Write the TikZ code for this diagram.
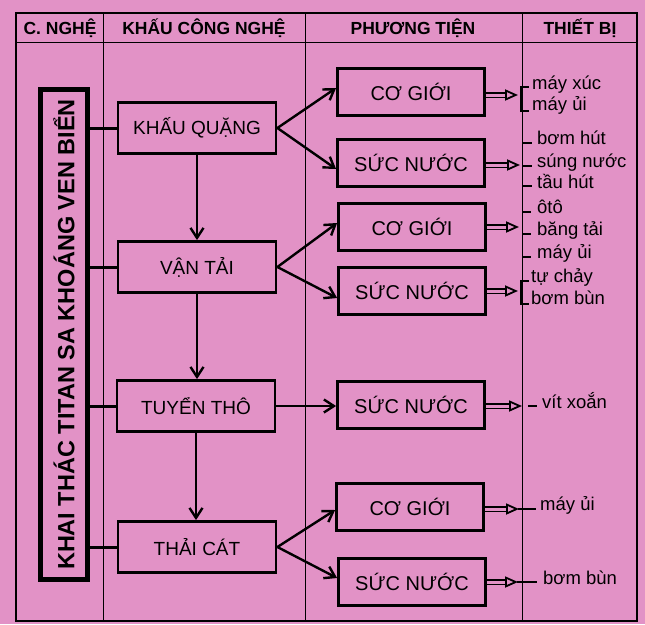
\documentclass[tikz,border=0pt]{standalone}
\usepackage{fontspec}
\setmainfont{Liberation Sans}
\usetikzlibrary{arrows.meta}
\definecolor{bgpink}{RGB}{226,146,198}
\begin{document}
\begin{tikzpicture}[x=1pt,y=-1pt,
  stage/.style={draw, line width=2.8pt, minimum width=158pt, minimum height=51pt, inner sep=0pt, font=\fontsize{19}{22}\selectfont},
  means/.style={draw, line width=2.8pt, minimum width=147pt, minimum height=47pt, inner sep=0pt, font=\fontsize{20}{23}\selectfont},
  hdr/.style={inner sep=0pt, font=\fontsize{17.5}{20}\selectfont\bfseries},
  item/.style={inner sep=0pt, anchor=mid west, font=\fontsize{18.5}{20}\selectfont},
  tline/.style={line width=1pt},
  conn/.style={line width=3pt},
  fan/.style={line width=2.4pt, -{Straight Barb[length=10pt,width=13pt,line width=2.4pt]}},
  dbl/.style={line width=1.8pt, double=bgpink, double distance=3pt, -{Triangle[open,length=13pt,width=11pt,line width=1.8pt]}},
  tick/.style={line width=2.4pt},
  brk/.style={line width=2.8pt, line cap=rect}]
\useasboundingbox (0,0) rectangle (645,624);
\fill[bgpink] (0,0) rectangle (645,624);

% table frame
\draw[line width=1.3pt] (16,13) rectangle (637,621);
\draw[tline] (16,42) -- (637,42);
\draw[tline] (103,13) -- (103,621);
\draw[tline] (305,13) -- (305,621);
\draw[tline] (522,13) -- (522,621);

% header
\node[hdr] (h1) at (60,28) {C. NGHỆ};
\node[hdr] (h2) at (204,28) {KHẤU CÔNG NGHỆ};
\node[hdr] (h3) at (413,28) {PHƯƠNG TIỆN};
\node[hdr] (h4) at (580,28) {THIẾT BỊ};

% main vertical box
\node[draw, line width=4.5pt, minimum width=47pt, minimum height=490pt, inner sep=0pt,
      font=\fontsize{23.5}{26}\selectfont\bfseries] (vbox) at (64,334.5)
      {\rotatebox{90}{KHAI THÁC TITAN SA KHOÁNG VEN BIỂN}};

% stages
\node[stage] (kq) at (197,128) {KHẤU QUẶNG};
\node[stage] (vt) at (197,267) {VẬN TẢI};
\node[stage] (tt) at (196,406) {TUYỂN THÔ};
\node[stage] (tc) at (197,547) {THẢI CÁT};

\foreach \s in {kq,vt,tt,tc} \draw[conn] (\s.west) -- (\s.west -| vbox.east);

\draw[fan] (kq.south) -- (vt.north);
\draw[fan] (vt.south) -- (vt.south |- tt.north);
\draw[fan] (tt.south) -- (tt.south |- tc.north);

% means
\node[means] (cg1) at (411,92) {CƠ GIỚI};
\node[means] (sn1) at (411,163) {SỨC NƯỚC};
\node[means] (cg2) at (412,227) {CƠ GIỚI};
\node[means] (sn2) at (412,291) {SỨC NƯỚC};
\node[means] (sn3) at (411,405) {SỨC NƯỚC};
\node[means] (cg3) at (410,507) {CƠ GIỚI};
\node[means] (sn4) at (412,582) {SỨC NƯỚC};

\draw[fan] (kq.east) -- ([yshift=4pt]cg1.west);
\draw[fan] (kq.east) -- ([yshift=-6pt]sn1.west);
\draw[fan] (vt.east) -- ([yshift=4pt]cg2.west);
\draw[fan] (vt.east) -- ([yshift=-7pt]sn2.west);
\draw[fan] (tt.east) -- (tt.east -| sn3.west);
\draw[fan] (tc.east) -- ([yshift=-3pt]cg3.west);
\draw[fan] (tc.east) -- ([yshift=4pt]sn4.west);

% double arrows
\coordinate (d1) at (518,95);
\coordinate (d2) at (520,165);
\coordinate (d3) at (519,227);
\coordinate (d4) at (518,291);
\coordinate (d5) at (522,406);
\coordinate (d6) at (519,509);
\coordinate (d7) at (518,582);
\draw[dbl] (cg1.east |- d1) -- (d1);
\draw[dbl] (sn1.east |- d2) -- (d2);
\draw[dbl] (cg2.east) -- (d3);
\draw[dbl] (sn2.east) -- (d4);
\draw[dbl] (sn3.east |- d5) -- (d5);
\draw[dbl] (cg3.east |- d6) -- (d6);
\draw[dbl] (sn4.east) -- (d7);

% equipment: CG1
\draw[brk] (528,87) -- (521,87) -- (521,111) -- (528,111);
\node[item] (e11) at (532,87) {máy xúc};
\node[item] (e12) at (532,108) {máy ủi};
% SN1
\draw[tick] (523,143) -- (532,143);
\draw[tick] (523,166) -- (532,166);
\draw[tick] (523,186) -- (532,186);
\node[item] (e21) at (537,142) {bơm hút};
\node[item] (e22) at (537,165) {súng nước};
\node[item] (e23) at (537,186) {tầu hút};
% CG2
\draw[tick] (523,212) -- (531,212);
\draw[tick] (523,234) -- (531,234);
\draw[tick] (523,257) -- (531,257);
\node[item] (e31) at (537,211) {ôtô};
\node[item] (e32) at (537,233) {băng tải};
\node[item] (e33) at (537,256) {máy ủi};
% SN2
\draw[brk] (528,281) -- (521,281) -- (521,304) -- (528,304);
\node[item] (e41) at (531,280) {tự chảy};
\node[item] (e42) at (531,302) {bơm bùn};
% SN3
\draw[tick] (528,406) -- (537,406);
\node[item] (e51) at (542,406) {vít xoắn};
% CG3
\draw[tick] (518,509) -- (536,509);
\node[item] (e61) at (540,508) {máy ủi};
% SN4
\draw[tick] (517,582) -- (537,582);
\node[item] (e71) at (543,582) {bơm bùn};
\end{tikzpicture}
\end{document}
